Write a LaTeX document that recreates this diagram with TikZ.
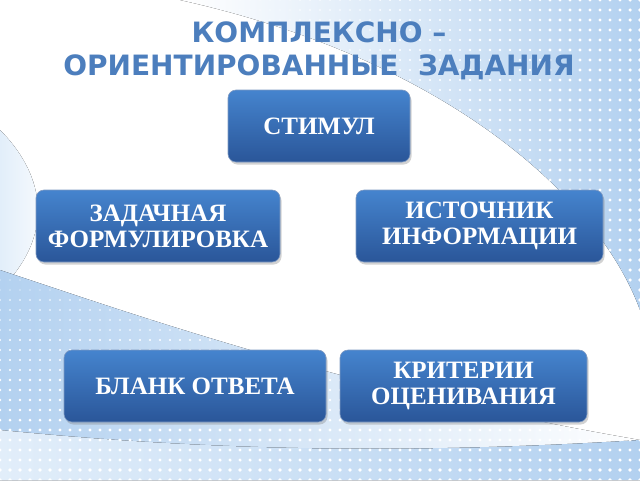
\documentclass[tikz,border=0pt]{standalone}
\usepackage{fontspec}
\setmainfont{Liberation Serif}
\newfontfamily\titlefont{DejaVu Sans}
\usetikzlibrary{shadows,positioning}
\definecolor{titleblue}{HTML}{4C7EBD}
\definecolor{boxtop}{HTML}{4584CE}
\definecolor{boxbot}{HTML}{2A5699}
\definecolor{skyblue}{HTML}{B3D1F0}
\definecolor{paleblue}{HTML}{E2EEFA}
\tikzset{
  block/.style={draw=boxbot!60!white, line width=0.6pt, rounded corners=8pt,
    top color=boxtop, bottom color=boxbot, text=white, align=center,
    font=\bfseries\fontsize{25}{26}\selectfont, inner sep=0pt,
    drop shadow={opacity=0.35, shadow xshift=1.5pt, shadow yshift=-2.5pt}},
  swoosh/.style={left color=white, right color=skyblue, draw=none},
  dot/.style={fill=white, draw=none}
}

\begin{document}
\begin{tikzpicture}[x=1pt,y=-1pt]
  \useasboundingbox (0,0) rectangle (640,480);
  \fill[white] (0,0) rectangle (640,480);

  % background swooshes
  \fill[swoosh] (180,0) -- (640,0) -- (640,310)
    .. controls (600,200) and (450,60) .. (180,0) -- cycle;
  \fill[left color=paleblue, right color=white] (0,130)
    .. controls (40,170) and (60,230) .. (0,290) -- cycle;
  \fill[left color=skyblue, right color=white] (0,270)
    .. controls (150,320) and (350,390) .. (640,440) -- (640,480) -- (0,480) -- cycle;
  \fill[left color=paleblue, right color=skyblue] (0,430)
    .. controls (200,450) and (400,455) .. (640,440) -- (640,480) -- (0,480) -- cycle;

  % halftone dots
  \begin{scope}
    \clip (180,0) -- (640,0) -- (640,310)
      .. controls (600,200) and (450,60) .. (180,0) -- cycle;
    \foreach \i in {0,...,46} {
      \foreach \j in {0,...,31} {
        \fill[dot] (180+\i*10,\j*10) circle ({0.4+\i*0.03});
      }
    }
  \end{scope}
  \begin{scope}
    \clip (0,270) .. controls (150,320) and (350,390) .. (640,440)
      -- (640,480) -- (0,480) -- cycle;
    \foreach \i in {0,...,64} {
      \foreach \j in {27,...,48} {
        \fill[dot] (\i*10,\j*10) circle ({0.6+(\j-27)*0.06});
      }
    }
  \end{scope}

  % title
  \node[font=\titlefont\bfseries\fontsize{28}{33}\selectfont, text=titleblue, align=center]
    (title) at (319,51) {КОМПЛЕКСНО –\\ОРИЕНТИРОВАННЫЕ~~ЗАДАНИЯ};

  % boxes
  \node[block, minimum width=182pt, minimum height=72pt] (stimul) at (319,126) {СТИМУЛ};
  \node[block, minimum width=244pt, minimum height=72pt] (zadacha) at (158,226) {ЗАДАЧНАЯ\\ФОРМУЛИРОВКА};
  \node[block, minimum width=247pt, minimum height=72pt] (istochnik) at (479.5,226) {ИСТОЧНИК\\ИНФОРМАЦИИ};
  \node[block, minimum width=262pt, minimum height=72pt] (blank) at (195,386) {БЛАНК ОТВЕТА};
  \node[block, minimum width=247pt, minimum height=72pt] (kriterii) at (463.5,386) {КРИТЕРИИ\\ОЦЕНИВАНИЯ};
\end{tikzpicture}
\end{document}
